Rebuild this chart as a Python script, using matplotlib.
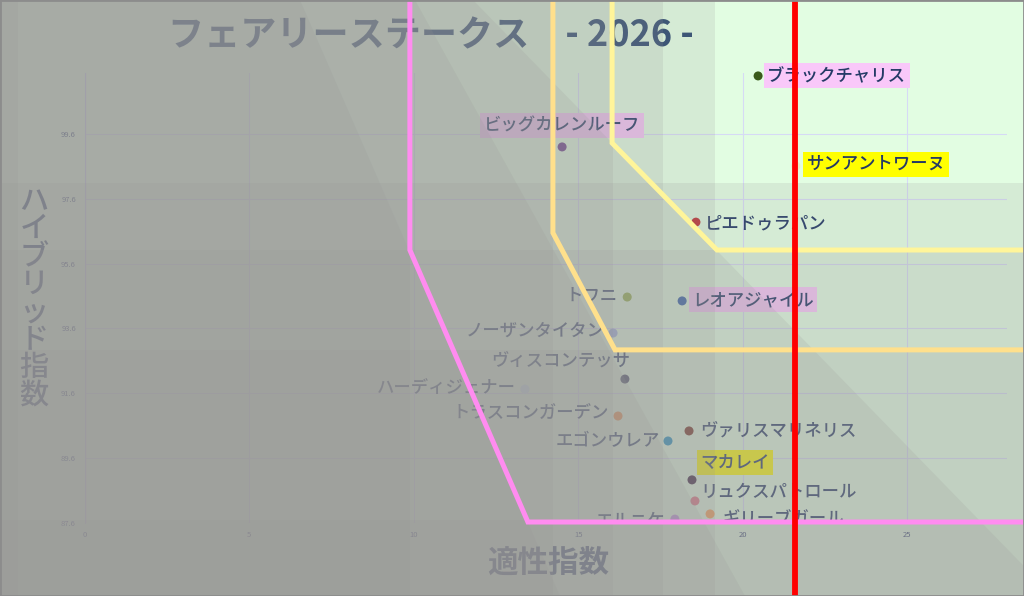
import matplotlib
matplotlib.use('Agg')
import matplotlib.pyplot as plt
from matplotlib.patches import Polygon, Rectangle

plt.rcParams['font.family'] = ['Noto Sans CJK JP', 'DejaVu Sans']

# horses: name, 適性指数 (x), ハイブリッド指数 (y)
names = ['ブラックチャリス', 'ビッグカレンルーフ', 'サンアントワーヌ', 'ピエドゥラパン',
         'トワニ', 'レオアジャイル', 'ノーザンタイタン', 'ヴィスコンテッサ',
         'ハーディジェナー', 'トラスコンガーデン', 'ヴァリスマリネリス', 'エゴンウレア',
         'マカレイ', 'リュクスパトロール', 'ギリーブガール', 'エルニケ']
tekisei = [20.47, 14.51, 21.62, 18.58, 16.49, 18.16, 16.06, 16.42,
           13.38, 16.21, 18.37, 17.73, 18.46, 18.55, 19.01, 17.94]
hybrid = [101.39, 99.20, 98.61, 96.88, 94.57, 94.45, 93.46, 92.04,
          91.73, 90.90, 90.44, 90.13, 88.93, 88.28, 87.88, 87.72]
dot_colors = ['#3a5a1a', '#6a3d8a', '#e8f0c8', '#c0282a', '#8fb040', '#2a5aa8',
              '#a0b0e0', '#3a4060', '#c8e0f0', '#f08a40', '#702818', '#1a90c0',
              '#301838', '#e07080', '#ffa050', '#c090e0']
highlight = ['#f9c8f9', '#f9c8f9', '#ffff00', None, None, '#f9c8f9', None, None,
             None, None, None, None, '#ffff00', None, None, None]

# label offsets in pixels (dx, dy downward) and alignment
label_off = [(9, 0, 'left'), (0, -21, 'center'), (11, -2, 'left'), (9, 1, 'left'),
             (-10, -1, 'right'), (10, -1, 'left'), (-8, -2, 'right'), (5, -18, 'right'),
             (-9, -1, 'right'), (-9, -2, 'right'), (11, 0, 'left'), (-8, 0, 'right'),
             (8, -17, 'left'), (5, -9, 'left'), (12, 6, 'left'), (-10, 1, 'right')]
label_clip = [False] * 14 + [True, True]

xticks = [0, 5, 10, 15, 20, 25]
yticks = [87.6, 89.6, 91.6, 93.6, 95.6, 97.6, 99.6]

# marker lines (data coords)
pink_x, pink_y = [9.88, 9.88, 13.47, 32], [106, 96.02, 87.63, 87.63]
peach_x, peach_y = [14.23, 14.23, 16.12, 32], [106, 96.55, 92.94, 92.94]
yellow_x, yellow_y = [16.03, 16.03, 19.22, 32], [106, 99.32, 96.02, 96.02]
red_x = 21.59

W, H = 1024, 596
NAVY = '#243a66'

fig = plt.figure(figsize=(W / 100, H / 100), dpi=100, facecolor='#e2fde2')
ax = fig.add_axes([85 / W, 1 - 523 / H, 922 / W, 450 / H])
ax.set_facecolor('none')

def fp(pts):
    return [(x / W, 1 - y / H) for x, y in pts]

# grey shading that darkens everything away from the top-right corner
shade_cols = [18, 410, 553, 613, 663, 715]
shade_rows = [183, 250, 350, 520]
shade_diag = [(300, 560), (415, 745), (473, 1053)]
shades = [[(0, 0), (xb, 0), (xb, H), (0, H)] for xb in shade_cols]
shades += [[(0, yb), (W, yb), (W, H), (0, H)] for yb in shade_rows]
shades += [[(0, 0), (x0, 0), (x1, H), (0, H)] for x0, x1 in shade_diag]
for pts in shades:
    ax.add_artist(Polygon(fp(pts), closed=True, fc='#989696', ec='none', alpha=0.17,
                          transform=fig.transFigure, clip_on=False, zorder=5))

ax.scatter(tekisei, hybrid, s=42, c=dot_colors, edgecolors='none', zorder=3, clip_on=False)

for i, name in enumerate(names):
    dx, dy, ha = label_off[i]
    bb = None
    if highlight[i]:
        bb = dict(boxstyle='square,pad=0.2', fc=highlight[i], ec='none')
    ax.annotate(name, (tekisei[i], hybrid[i]), xytext=(dx * 0.72, -dy * 0.72),
                textcoords='offset points', ha=ha, va='center', fontsize=12.5,
                fontweight='medium', color=NAVY, bbox=bb, zorder=4,
                annotation_clip=False, clip_on=label_clip[i])

ax.set_xlim(0, 28.04)
ax.set_ylim(87.6, 101.48)
ax.set_xticks(xticks)
ax.set_yticks(yticks)
ax.set_xticklabels([str(t) for t in xticks])
ax.set_yticklabels([f'{t:.1f}' for t in yticks])
ax.tick_params(length=0, labelsize=5.5, labelcolor='#2a3a70')
ax.tick_params(axis='y', pad=6.5)
ax.tick_params(axis='x', pad=5.5)
ax.grid(True, color='#d6daf5', lw=0.8)
for s in ['top', 'right', 'bottom']:
    ax.spines[s].set_visible(False)
ax.spines['left'].set_color('#c8cdf0')
ax.spines['left'].set_linewidth(0.8)

# titles as axes texts so the shading covers them
ax.text(431 / W, 1 - 36 / H, 'フェアリーステークス　- 2026 -', transform=fig.transFigure,
        ha='center', va='center', fontsize=26, fontweight='bold', color='#2b4a70',
        zorder=3, clip_on=False)
ax.text(34 / W, 1 - 298 / H, '\n'.join('ハイブリッド指数'), transform=fig.transFigure,
        ha='center', va='center', fontsize=21, fontweight='medium', color=NAVY,
        linespacing=0.86, zorder=3, clip_on=False)
ax.text(548 / W, 1 - 563 / H, '適性指数', transform=fig.transFigure,
        ha='center', va='center', fontsize=22, fontweight='bold', color=NAVY,
        zorder=3, clip_on=False)

ax.plot(pink_x, pink_y, color='#ff8cf0', lw=3.6, zorder=6, clip_on=False,
        solid_joinstyle='miter')
ax.plot(peach_x, peach_y, color='#ffe08c', lw=3.6, zorder=6, clip_on=False,
        solid_joinstyle='miter')
ax.plot(yellow_x, yellow_y, color='#fff59a', lw=3.6, zorder=6, clip_on=False,
        solid_joinstyle='miter')
ax.axvline(red_x, ymin=-1, ymax=2, color='#ff0000', lw=4.2, zorder=7, clip_on=False)

ax.add_artist(Rectangle((0, 0), 1, 1, fill=False, ec='#8c8c8c', lw=2,
                        transform=fig.transFigure, clip_on=False, zorder=10))

fig.savefig('out.png', dpi=100)
